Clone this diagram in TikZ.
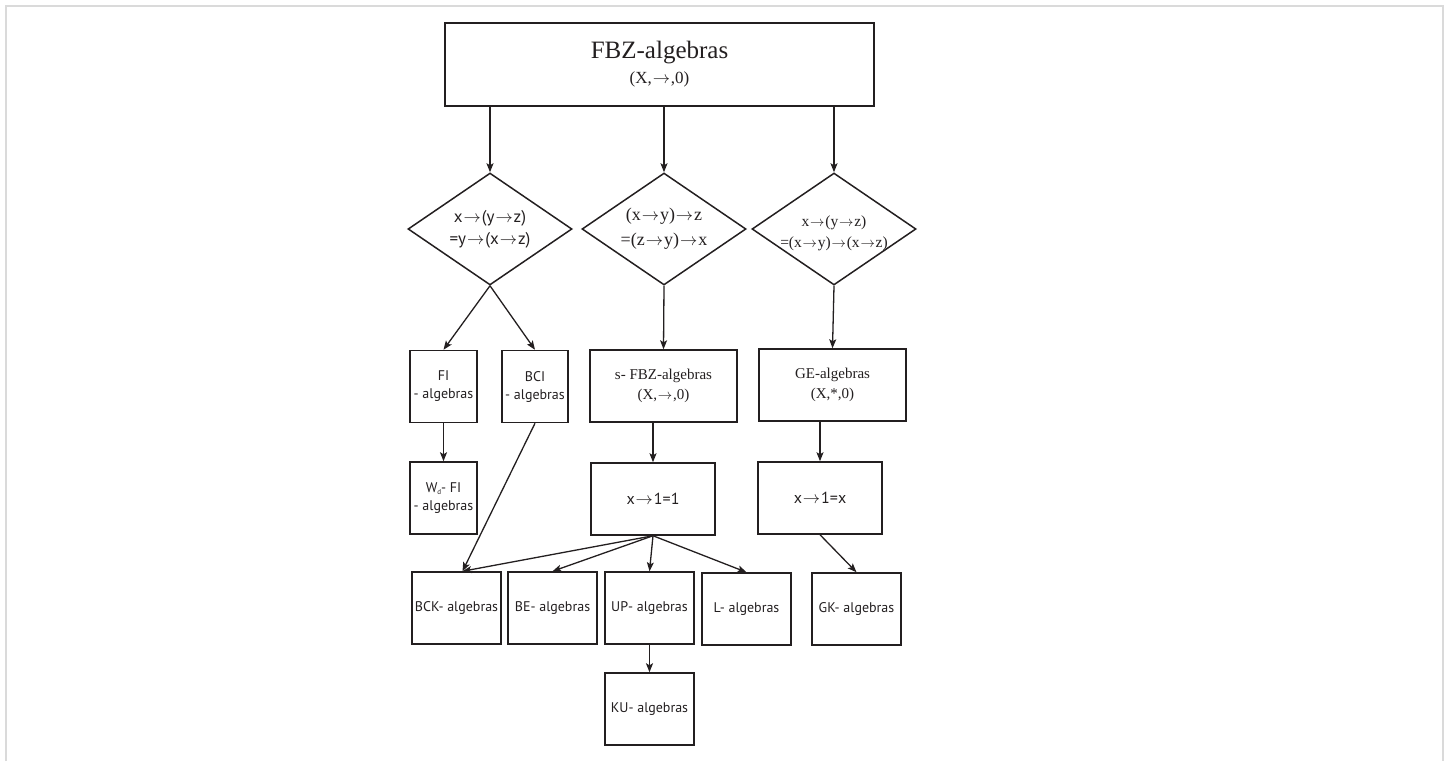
\documentclass[tikz,border=0pt]{standalone}
\usepackage{fontspec}
\setmainfont{Liberation Serif}
\newfontfamily\sansfam{PT Sans}
\usetikzlibrary{shapes.geometric,arrows.meta}
\definecolor{ink}{HTML}{231F20}
\definecolor{framegray}{HTML}{DADADA}
\newcommand\fsz[2]{\fontsize{#1}{#2}\selectfont}
\newcommand\ra{\ensuremath{\mkern1mu{\rightarrow}\mkern1mu}}
\tikzstyle{blk}     = [draw=ink, line width=1.5pt, rectangle, inner sep=0pt, align=center, text=ink, minimum height=72pt]
\tikzstyle{cond}    = [draw=ink, line width=1.5pt, diamond, minimum width=164pt, minimum height=112pt, inner sep=0pt]
\tikzstyle{condtxt} = [align=center, text=ink, inner sep=0pt]
\tikzstyle{arr}     = [draw=ink, line width=1.3pt, -{Stealth[length=9pt,width=7pt,inset=2pt]}]

\begin{document}
\begin{tikzpicture}[x=1pt,y=-1pt]
  \useasboundingbox (0,0) rectangle (1451,761);
  \draw[framegray, line width=2pt] (6,761) -- (6,6) -- (1443,6) -- (1443,761);

  % top
  \node[blk, minimum width=429pt, minimum height=83pt] (fbz) at (659.5,64.5)
    {\fsz{25}{24}FBZ-algebras\\[7pt]\fsz{17}{24}(X,\ra,0)};

  % conditions
  \node[cond] (c1) at (490,229) {};
  \node[cond] (c2) at (664,229) {};
  \node[cond] (c3) at (834,229) {};
  \node[condtxt, font=\sansfam\fsz{17}{22}] at (c1) {x\ra(y\ra z)\\=y\ra(x\ra z)};
  \node[condtxt, font=\fsz{18}{25}] at (c2) {(x\ra y)\ra z\\=(z\ra y)\ra x};
  \node[condtxt, font=\fsz{15.5}{21}] at ([yshift=-4pt]c3) {x\ra(y\ra z)\\=(x\ra y)\ra(x\ra z)};

  % second row
  \node[blk, minimum width=67pt, font=\sansfam\fsz{14}{18}] (fi) at (443.5,386.5) {FI\\- algebras};
  \node[blk, minimum width=66pt, font=\sansfam\fsz{14}{18}] (bci) at (535,386.5) {BCI\\- algebras};
  \node[blk, minimum width=147pt, font=\fsz{15}{20}] (sfbz) at (663.5,386) {s- FBZ-algebras\\(X,\ra,0)};
  \node[blk, minimum width=147pt, font=\fsz{15}{20}] (ge) at (832.5,385) {GE-algebras\\(X,*,0)};

  % third row
  \node[blk, minimum width=67pt, font=\sansfam\fsz{14}{18}] (wfi) at (443.5,498)
    {W\raisebox{-2pt}{\fsz{7}{7}d}- FI\\- algebras};
  \node[blk, minimum width=124pt, font=\sansfam\fsz{16}{18}] (one) at (653,499) {x\ra1=1};
  \node[blk, minimum width=124pt, font=\sansfam\fsz{16}{18}] (ex) at (820,498) {x\ra1=x};

  % bottom row
  \node[blk, minimum width=89pt, font=\sansfam\fsz{14}{18}] (bck) at (456.5,608) {BCK- algebras};
  \node[blk, minimum width=89pt, font=\sansfam\fsz{14}{18}] (be) at (552.5,608) {BE- algebras};
  \node[blk, minimum width=89pt, font=\sansfam\fsz{14}{18}] (up) at (649.5,608) {UP- algebras};
  \node[blk, minimum width=89pt, font=\sansfam\fsz{14}{18}] (l) at (746.5,609) {L- algebras};
  \node[blk, minimum width=89pt, font=\sansfam\fsz{14}{18}] (gk) at (856.5,609) {GK- algebras};
  \node[blk, minimum width=89pt, font=\sansfam\fsz{14}{18}] (ku) at (649.5,709) {KU- algebras};
  \coordinate (bckin) at ([xshift=6pt]bck.north);

  % arrows
  \foreach \c in {c1,c2,c3}
    \draw[arr] (fbz.south -| \c) -- (\c.north);
  \draw[arr] (c1.south) -- (fi.north);
  \draw[arr] (c1.south) -- (bci.north);
  \draw[arr] (c2.south) -- (sfbz.north);
  \draw[arr] (c3.south) -- (ge.north);
  \draw[arr] (fi) -- (wfi);
  \draw[arr] (sfbz.south -| one) -- (one.north);
  \draw[arr] (ge.south -| ex) -- (ex.north);
  \draw[arr] (bci.south) -- (bckin);
  \draw[arr] (one.south) -- (bckin);
  \foreach \b in {be,up,l}
    \draw[arr] (one.south) -- (\b.north);
  \draw[arr] (ex.south) -- (gk.north);
  \draw[arr] (up) -- (ku);
\end{tikzpicture}
\end{document}
